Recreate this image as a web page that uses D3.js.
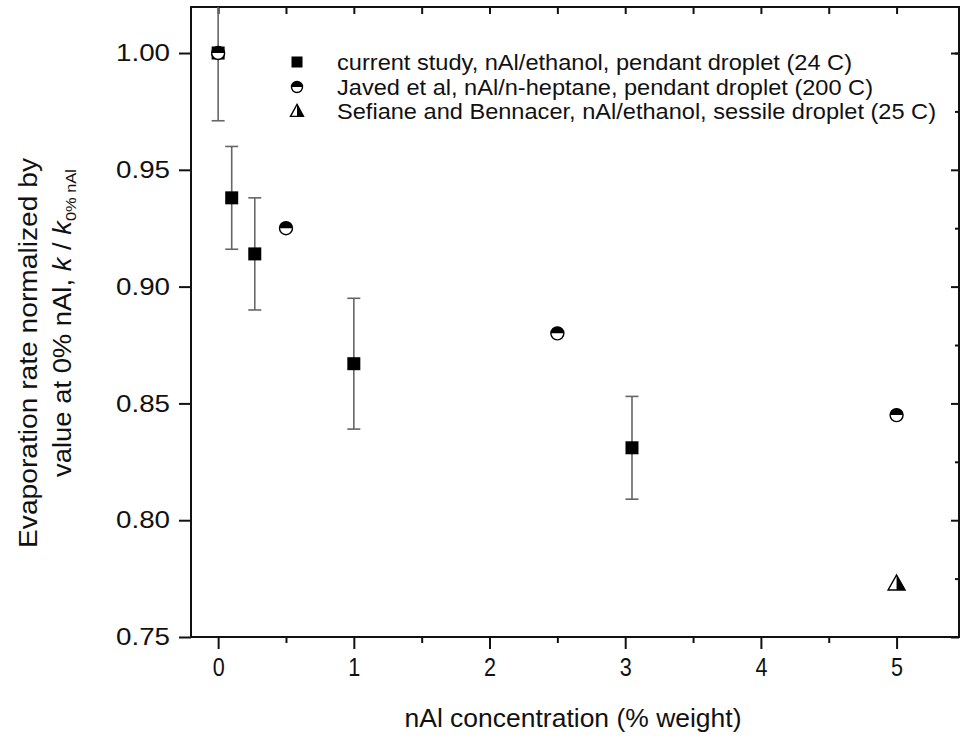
<!DOCTYPE html>
<html><head><meta charset="utf-8">
<script src="https://cdn.jsdelivr.net/npm/d3@7"></script>
<style>body{margin:0;background:#fff}svg{display:block}text{font-family:"Liberation Sans",Arial,sans-serif;fill:#111}</style>
</head><body>
<script>
// ---- data ----
const studyX = [0, 0.1, 0.27, 1.0, 3.05];
const studyY = [1.0, 0.938, 0.914, 0.867, 0.831];
const studyErr = [0.029, 0.022, 0.024, 0.028, 0.022];
const javedX = [0, 0.5, 2.5, 5];
const javedY = [1.0, 0.925, 0.88, 0.845];
const sefianeX = [5];
const sefianeY = [0.773];
const xTicks = [0, 1, 2, 3, 4, 5];
const yTicks = [0.75, 0.80, 0.85, 0.90, 0.95, 1.00];
const legendLabels = [
  "current study, nAl/ethanol, pendant droplet (24 C)",
  "Javed et al, nAl/n-heptane, pendant droplet (200 C)",
  "Sefiane and Bennacer, nAl/ethanol, sessile droplet (25 C)"
];
const xTitle = "nAl concentration (% weight)";
const yTitle1 = "Evaporation rate normalized by";

const W = 963, H = 742;
const L = 191, R = 959, T = 7, B = 637;
const svg = d3.select("body").append("svg").attr("width", W).attr("height", H);
const x = d3.scaleLinear().domain([-0.2, 5.46]).range([L, R]);
const y = d3.scaleLinear().domain([0.75, 1.0197]).range([B, T]);

svg.append("clipPath").attr("id","clip").append("rect")
  .attr("x", L).attr("y", T).attr("width", R-L).attr("height", B-T);

// axes
const fmt = d3.format(".2f");
const axL = svg.append("g").attr("transform", `translate(${L},0)`)
  .call(d3.axisLeft(y).tickValues(yTicks).tickSize(12).tickPadding(8).tickFormat(fmt));
axL.selectAll("text").attr("font-size", 24).attr("textLength", 54).attr("lengthAdjust","spacingAndGlyphs").attr("x", -21);
const axB = svg.append("g").attr("transform", `translate(0,${B})`)
  .call(d3.axisBottom(x).tickValues(xTicks).tickSize(12).tickPadding(9).tickFormat(d3.format("d")));
axB.selectAll("text").attr("font-size", 25).attr("textLength", 12).attr("lengthAdjust","spacingAndGlyphs");
svg.append("g").attr("transform", `translate(0,${B})`)
  .call(d3.axisBottom(x).tickValues([0.5,1.5,2.5,3.5,4.5,5.5].filter(v=>v<5.46)).tickSize(6).tickFormat(""));
svg.append("g").attr("transform", `translate(0,${T})`)
  .call(d3.axisBottom(x).tickValues(d3.range(0, 5.5, 0.5)).tickSize(7).tickFormat(""));
svg.append("g").attr("transform", `translate(${R},0)`)
  .call(d3.axisLeft(y).tickValues(yTicks).tickSize(8).tickFormat(""));
svg.append("g").attr("transform", `translate(${R},0)`)
  .call(d3.axisLeft(y).tickValues([0.775,0.825,0.875,0.925,0.975,1.0]).tickSize(4).tickFormat(""));
svg.selectAll(".domain").remove();
svg.selectAll(".tick line").attr("stroke","#111").attr("stroke-width",2);
svg.append("rect").attr("x",L).attr("y",T).attr("width",R-L).attr("height",B-T)
  .attr("fill","none").attr("stroke","#111").attr("stroke-width",2);

// error bars
const plot = svg.append("g").attr("clip-path","url(#clip)");
const study = studyX.map((v,i)=>({x:v,y:studyY[i],e:studyErr[i]}));
const eb = plot.selectAll(".eb").data(study).join("g").attr("stroke","#666").attr("stroke-width",1.6);
eb.append("line").attr("x1",d=>x(d.x)).attr("x2",d=>x(d.x)).attr("y1",d=>y(d.y+d.e)).attr("y2",d=>y(d.y-d.e));
eb.append("line").attr("x1",d=>x(d.x)-6.5).attr("x2",d=>x(d.x)+6.5).attr("y1",d=>y(d.y+d.e)).attr("y2",d=>y(d.y+d.e));
eb.append("line").attr("x1",d=>x(d.x)-6.5).attr("x2",d=>x(d.x)+6.5).attr("y1",d=>y(d.y-d.e)).attr("y2",d=>y(d.y-d.e));

// marker drawers
function square(g, cx, cy, s){ g.append("rect").attr("x",cx-s/2).attr("y",cy-s/2).attr("width",s).attr("height",s).attr("fill","#000"); }
const halfArc = r => d3.arc().innerRadius(0).outerRadius(r).startAngle(-Math.PI/2).endAngle(Math.PI/2)();
function halfCircle(g, cx, cy, r){
  const gg = g.append("g").attr("transform",`translate(${cx},${cy})`);
  gg.append("circle").attr("r",r).attr("fill","#fff");
  gg.append("path").attr("d",halfArc(r)).attr("fill","#000");
  gg.append("circle").attr("r",r).attr("fill","none").attr("stroke","#000").attr("stroke-width",1.4);
}
function halfTri(g, cx, cy, w, h){
  const gg = g.append("g").attr("transform",`translate(${cx},${cy})`);
  const top=[0,-h*0.55], bl=[-w/2,h*0.45], br=[w/2,h*0.45], bm=[0,h*0.45];
  gg.append("path").attr("d",d3.line()([top,br,bl])+"Z").attr("fill","#fff").attr("stroke","#000").attr("stroke-width",1.4).attr("stroke-linejoin","miter");
  gg.append("path").attr("d",d3.line()([top,br,bm])+"Z").attr("fill","#000");
}

const mk = svg.append("g");
study.forEach(d=>square(mk, x(d.x), y(d.y), 13));
javedX.forEach((v,i)=>halfCircle(mk, x(v), y(javedY[i]), 6.5));
sefianeX.forEach((v,i)=>halfTri(mk, x(v), y(sefianeY[i]), 17, 15));

// legend
const lg = svg.append("g");
const rowY = [62, 87, 111];
square(lg, 297, rowY[0], 11);
halfCircle(lg, 297, rowY[1], 5.5);
halfTri(lg, 297, rowY[2], 13, 12);
const lw = [515, 536, 599];
legendLabels.forEach((t,i)=>{
  lg.append("text").attr("x",337).attr("y",rowY[i]+8).attr("font-size",22)
    .attr("textLength",lw[i]).attr("lengthAdjust","spacingAndGlyphs").text(t);
});

// axis titles
svg.append("text").attr("x",573).attr("y",727).attr("text-anchor","middle").attr("font-size",25)
  .attr("textLength",337).attr("lengthAdjust","spacingAndGlyphs").text(xTitle);
svg.append("text").attr("transform","translate(37,353) rotate(-90)").attr("text-anchor","middle").attr("font-size",25)
  .attr("textLength",390).attr("lengthAdjust","spacingAndGlyphs").text(yTitle1);
const t2 = svg.append("text").attr("font-size",25);
t2.append("tspan").text("value at 0% nAl, ");
t2.append("tspan").attr("font-style","italic").text("k");
t2.append("tspan").text(" / ");
t2.append("tspan").attr("font-style","italic").text("k");
t2.append("tspan").attr("font-size",15).attr("dy",5).text("0% nAl");
const bw = t2.node().getBBox().width;
const k2 = 308 / bw;
t2.attr("text-anchor","middle").attr("transform",`translate(71,323) rotate(-90) scale(${k2},1)`);
</script>
</body></html>
